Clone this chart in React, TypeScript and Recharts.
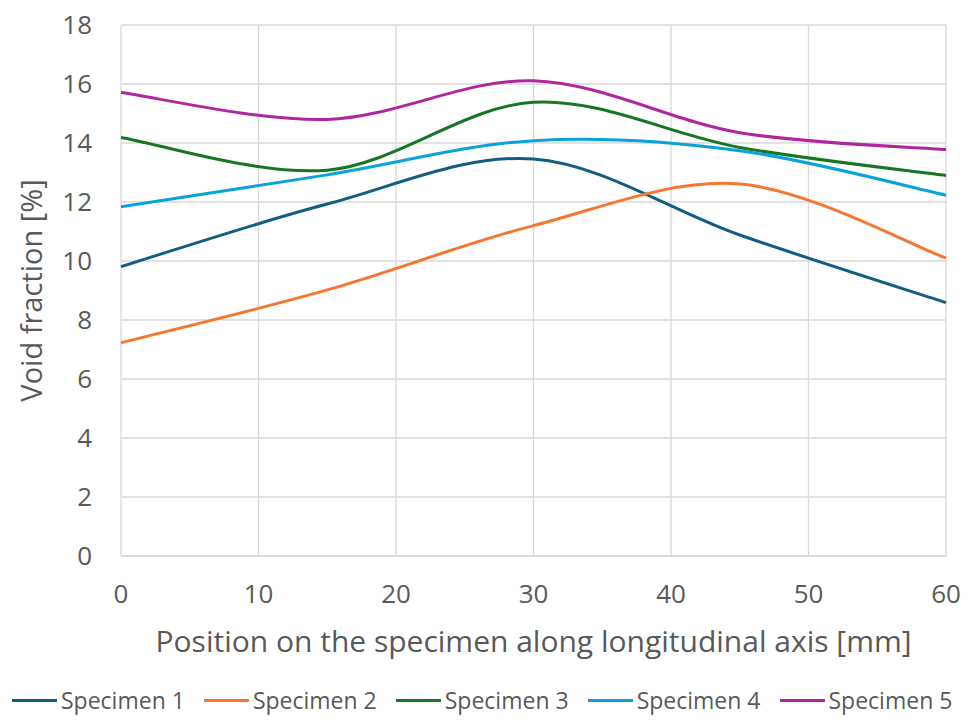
import React from 'react';
import { LineChart, Line, XAxis, YAxis, CartesianGrid, Legend } from 'recharts';

const positions = [0, 15, 30, 45, 60];
const specimen1 = [9.81, 11.93, 13.46, 10.88, 8.59];
const specimen2 = [7.23, 9.02, 11.2, 12.61, 10.1];
const specimen3 = [14.19, 13.08, 15.38, 13.85, 12.9];
const specimen4 = [11.84, 12.92, 14.08, 13.74, 12.23];
const specimen5 = [15.71, 14.8, 16.11, 14.35, 13.78];
const seriesNames = ['Specimen 1', 'Specimen 2', 'Specimen 3', 'Specimen 4', 'Specimen 5'];
const seriesColors = ['#135E80', '#F9762E', '#177524', '#08A3DA', '#B0269F'];
const xTicks = [0, 10, 20, 30, 40, 50, 60];
const yTicks = [0, 2, 4, 6, 8, 10, 12, 14, 16, 18];

const seriesValues = [specimen1, specimen2, specimen3, specimen4, specimen5];
const data = positions.map((x, i) => {
  const row: Record<string, number> = { x };
  seriesNames.forEach((name, s) => {
    row[name] = seriesValues[s][i];
  });
  return row;
});

// Excel-like smoothed line (Catmull-Rom as cubic Bezier)
function excelSmooth(context: any) {
  let pts: [number, number][] = [];
  return {
    areaStart() {},
    areaEnd() {},
    lineStart() {
      pts = [];
    },
    point(x: number, y: number) {
      pts.push([+x, +y]);
    },
    lineEnd() {
      const n = pts.length;
      if (!n) return;
      context.moveTo(pts[0][0], pts[0][1]);
      for (let i = 0; i < n - 1; i++) {
        const p0 = pts[i - 1] || pts[i];
        const p1 = pts[i];
        const p2 = pts[i + 1];
        const p3 = pts[i + 2] || pts[i + 1];
        context.bezierCurveTo(
          p1[0] + (p2[0] - p0[0]) / 6,
          p1[1] + (p2[1] - p0[1]) / 6,
          p2[0] - (p3[0] - p1[0]) / 6,
          p2[1] - (p3[1] - p1[1]) / 6,
          p2[0],
          p2[1]
        );
      }
    },
  };
}

const FONT = '"Open Sans", sans-serif';
const TEXT = '#595959';

const LegendContent = () => (
  <div
    style={{
      display: 'flex',
      justifyContent: 'flex-start',
      alignItems: 'center',
      gap: 19,
      height: 40,
      width: 974,
      paddingLeft: 12,
      boxSizing: 'border-box',
      fontFamily: FONT,
      fontSize: 23,
      color: TEXT,
      whiteSpace: 'nowrap',
    }}
  >
    {seriesNames.map((name, i) => (
      <div key={name} style={{ display: 'flex', alignItems: 'center', flexShrink: 0 }}>
        <div style={{ width: 45, height: 3, background: seriesColors[i], marginRight: 4, flexShrink: 0 }} />
        <span style={{ whiteSpace: 'nowrap' }}>{name}</span>
      </div>
    ))}
  </div>
);

export default function App() {
  return (
    <div style={{ position: 'absolute', left: 0, top: 0, width: 974, height: 726, background: '#fff' }}>
      <LineChart
        width={974}
        height={726}
        data={data}
        margin={{ top: 25, right: 28, bottom: 6, left: 0 }}
      >
        <CartesianGrid stroke="#d9d9d9" strokeWidth={1.3} />
        <XAxis
          dataKey="x"
          type="number"
          domain={[0, 60]}
          ticks={xTicks}
          height={124}
          tickSize={0}
          tickMargin={29}
          axisLine={{ stroke: '#d9d9d9', strokeWidth: 1.3 }}
          tickLine={false}
          tick={{ fill: TEXT, fontSize: 26, fontFamily: FONT }}
          label={{
            value: 'Position on the specimen along longitudinal axis [mm]',
            position: 'insideBottom',
            offset: 28,
            fill: TEXT,
            fontSize: 30,
            fontFamily: FONT,
          }}
        />
        <YAxis
          type="number"
          domain={[0, 18]}
          ticks={yTicks}
          width={121}
          tickSize={0}
          tickMargin={29}
          axisLine={false}
          tickLine={false}
          tick={{ fill: TEXT, fontSize: 26, fontFamily: FONT }}
          label={{
            value: 'Void fraction [%]',
            angle: -90,
            position: 'insideLeft',
            offset: 32,
            fill: TEXT,
            fontSize: 29,
            fontFamily: FONT,
            style: { textAnchor: 'middle' },
          }}
        />
        <Legend
          verticalAlign="bottom"
          height={40}
          wrapperStyle={{ left: 0, width: 974 }}
          content={<LegendContent />}
        />
        {seriesNames.map((name, i) => (
          <Line
            key={name}
            dataKey={name}
            name={name}
            type={excelSmooth as any}
            stroke={seriesColors[i]}
            strokeWidth={3}
            dot={false}
            activeDot={false}
            isAnimationActive={false}
          />
        ))}
      </LineChart>
    </div>
  );
}
